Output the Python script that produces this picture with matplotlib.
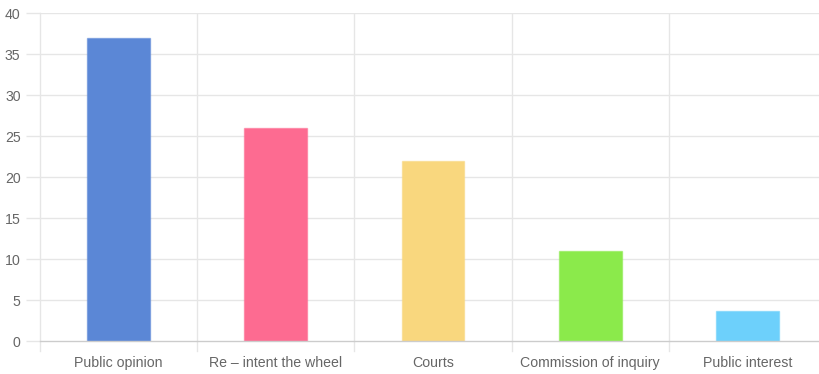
import matplotlib
matplotlib.use("Agg")
import matplotlib.pyplot as plt
from matplotlib.colors import to_rgba

categories = ["Public opinion", "Re \u2013 intent the wheel", "Courts",
              "Commission of inquiry", "Public interest"]
values = [37, 26, 22, 11, 3.7]
colors = ["#5b87d6", "#fd6b91", "#f9d77e", "#8bea4b", "#6dd0fb"]
y_ticks = [0, 5, 10, 15, 20, 25, 30, 35, 40]

plt.rcParams["font.family"] = ["Liberation Sans", "DejaVu Sans"]

W, H = 819, 374
fig = plt.figure(figsize=(W / 100, H / 100), dpi=100)
left, bottom, width, height = 40, 374 - 341.3, 786, 328
ax = fig.add_axes([left / W, bottom / H, width / W, height / H])

grid_c = "#e6e6e6"
x = list(range(len(categories)))
ax.bar(x, values, width=0.4, color=colors, zorder=3,
       edgecolor=[to_rgba(c, 0.55) for c in colors], linewidth=1)

ax.set_xlim(-0.5, len(categories) - 0.5)
ax.set_ylim(0, 40)
ax.set_yticks(y_ticks)
ax.set_xticks(x)
ax.set_xticklabels(categories)

# vertical category separators
for b in [i + 0.5 for i in x[:-1]]:
    ax.axvline(b, color=grid_c, lw=1, zorder=1)
for t in y_ticks[1:]:
    ax.axhline(t, color=grid_c, lw=1, zorder=1)
ax.axhline(0, color="#cccccc", lw=1, zorder=4, clip_on=False)

for s in ["top", "right", "bottom"]:
    ax.spines[s].set_visible(False)
ax.spines["left"].set_color(grid_c)
ax.spines["left"].set_linewidth(1)

ax.tick_params(axis="y", length=10, width=1, color=grid_c, pad=4,
               labelsize=10.2, labelcolor="#666666")
ax.tick_params(axis="x", length=0, pad=10.5, labelsize=10.2, labelcolor="#666666")

# small ticks below the baseline at category boundaries
for b in [-0.5] + [i + 0.5 for i in x[:-1]]:
    ax.plot([b, b], [0, -1.2], color=grid_c, lw=1, clip_on=False, zorder=1)

fig.savefig("out.png", dpi=100)
